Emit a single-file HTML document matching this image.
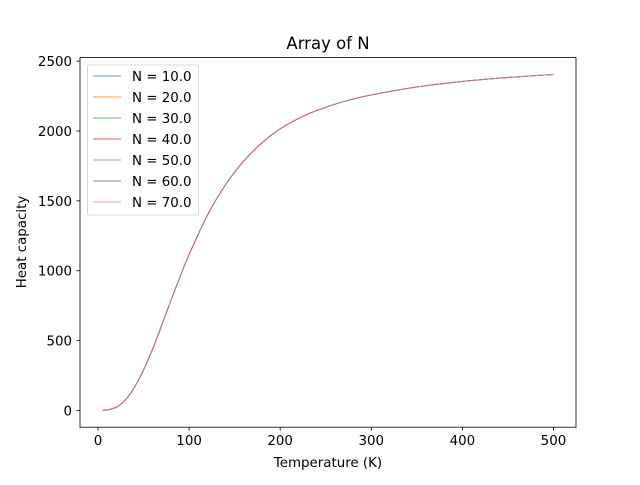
<!DOCTYPE html>
<html><head><meta charset="utf-8"><style>
body{margin:0;background:#fff;}
text{font-family:"DejaVu Sans","Liberation Sans",sans-serif;fill:#000;}
</style></head><body>
<svg id="chart" width="640" height="480" viewBox="0 0 640 480">
<text x="328" y="49" font-size="16.5" text-anchor="middle">Array of N</text>
<g id="plot"></g>
<rect x="80" y="57.6" width="496" height="369.6" fill="none" stroke="#000" stroke-width="0.8"/>
<text x="328" y="467" font-size="13.4" text-anchor="middle">Temperature (K)</text>
<text transform="translate(26,242) rotate(-90)" font-size="13.4" text-anchor="middle">Heat capacity</text>
<g>
<rect x="87.5" y="65" width="111" height="150" rx="2" fill="#fff" fill-opacity="0.8" stroke="#ccc" stroke-width="0.8"/>
<g id="legend"></g>
</g>
</svg>
<script>
const temps=[5,10,20,30,40,50,60,70,80,90,100,120,140,160,180,200,225,250,275,300,350,400,450,500];
const heat=[0,3,22,75,165,290,440,610,785,955,1115,1395,1615,1785,1915,2015,2105,2170,2220,2258,2315,2355,2383,2405];
const seriesLabels=["N = 10.0","N = 20.0","N = 30.0","N = 40.0","N = 50.0","N = 60.0","N = 70.0"];
const colors=["#1f77b4","#ff7f0e","#2ca02c","#d62728","#9467bd","#8c564b","#e377c2"];
const xTicks=[0,100,200,300,400,500];
const yTicks=[0,500,1000,1500,2000,2500];
const NS="http://www.w3.org/2000/svg";
const X=v=>80+(v+19.75)/544.5*496;
const Y=v=>427.2-(v+120.25)/2645.5*369.6;
const plot=document.getElementById('plot');
function mk(t,a,parent){const e=document.createElementNS(NS,t);for(const k in a)e.setAttribute(k,a[k]);parent.appendChild(e);return e;}
function smoothPath(px,py){
 let d='M'+px[0].toFixed(2)+','+py[0].toFixed(2);
 for(let i=0;i<px.length-1;i++){
  const i0=Math.max(0,i-1),i3=Math.min(px.length-1,i+2);
  const c1x=px[i]+(px[i+1]-px[i0])/6,c1y=py[i]+(py[i+1]-py[i0])/6;
  const c2x=px[i+1]-(px[i3]-px[i])/6,c2y=py[i+1]-(py[i3]-py[i])/6;
  d+='C'+c1x.toFixed(2)+','+c1y.toFixed(2)+' '+c2x.toFixed(2)+','+c2y.toFixed(2)+' '+px[i+1].toFixed(2)+','+py[i+1].toFixed(2);
 }
 return d;
}
xTicks.forEach(t=>{
 const l=mk('line',{x1:X(t),x2:X(t),y1:427.2,y2:430.7,stroke:'#000','stroke-width':0.8},plot);
 
 
 const tx=mk('text',{x:X(t),y:445,'font-size':13.4,'text-anchor':'middle'},plot);tx.textContent=t;
 
 
});
yTicks.forEach(t=>{
 const l=mk('line',{x1:76.5,x2:80,y1:Y(t),y2:Y(t),stroke:'#000','stroke-width':0.8},plot);
 
 
 const tx=mk('text',{x:72,y:Y(t)+5,'font-size':13.4,'text-anchor':'end'},plot);tx.textContent=t;
 
 
});
const px=temps.map(X), py=heat.map(Y);
seriesLabels.forEach((s,i)=>{
 const p=mk('path',{d:smoothPath(px,py),fill:'none',stroke:colors[i],'stroke-width':0.9,'stroke-opacity':0.75},plot);
 
 
 const lg=document.getElementById('legend');
 const y=76+i*21;
 const ll=mk('line',{x1:93,x2:121,y1:y,y2:y,stroke:colors[i],'stroke-width':1,'stroke-opacity':0.75},lg);
 
 
 const lt=mk('text',{x:132,y:y+5,'font-size':13.4},lg);lt.textContent=s;
 
 
});
</script>
</body></html>
